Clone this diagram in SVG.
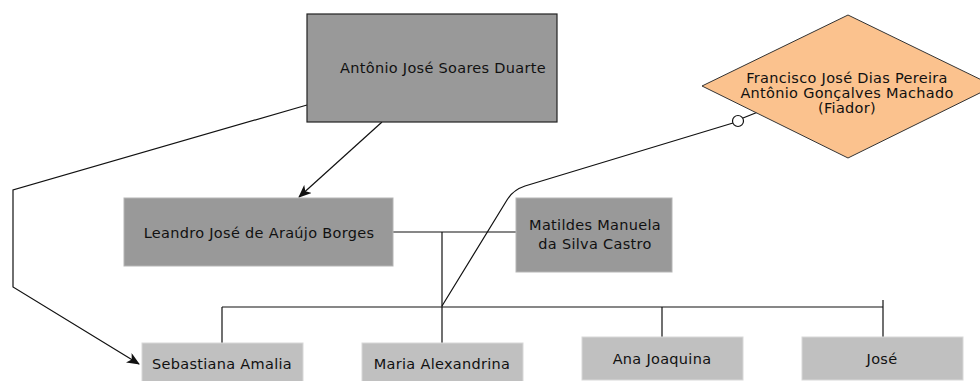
<svg xmlns="http://www.w3.org/2000/svg" width="980" height="381" viewBox="0 0 980 381">
<defs>
<style>
text{font-family:"DejaVu Sans","Liberation Sans",sans-serif;font-size:14.5px;letter-spacing:0.3px;fill:#111;text-anchor:middle;dominant-baseline:central}
.dark{fill:#999999;stroke:#222;stroke-width:1.2}
.mid{fill:#999999;stroke:#b5b5b5;stroke-width:1}
.light{fill:#c0c0c0;stroke:#d8d8d8;stroke-width:1}
.dia{fill:#fbc28e;stroke:#333;stroke-width:1}
.ln{fill:none;stroke:#111;stroke-width:1.2}
</style>
<marker id="arr" viewBox="0 0 13 11" refX="12" refY="5.5" markerWidth="13" markerHeight="11" markerUnits="userSpaceOnUse" orient="auto">
<path d="M0,0 L13,5.5 L0,11 L3.5,5.5 Z" fill="#111"/>
</marker>
</defs>
<rect width="980" height="381" fill="#fff"/>
<g id="connectors">
<path class="ln" d="M307,105 L13,190 L13,287 L139,364" marker-end="url(#arr)"/>
<path class="ln" d="M382,122 L299,197" marker-end="url(#arr)"/>
<path class="ln" d="M393,232 L516,232"/>
<path class="ln" d="M442,232 L442,343"/>
<path class="ln" d="M222,307 L883,307"/>
<path class="ln" d="M222,307 L222,343"/>
<path class="ln" d="M662,307 L662,337"/>
<path class="ln" d="M883,300 L883,337"/>
<path class="ln" d="M442,306 L507,200 Q513,190 525,186 L733,123"/>
<path class="ln" d="M743,118 L758,112"/>
<circle cx="738" cy="121" r="5.5" fill="#fff" stroke="#111" stroke-width="1.2"/>
</g>
<g id="antonio">
<rect class="dark" x="307" y="14" width="250" height="108"/>
<text x="443" y="68">Antônio José Soares Duarte</text>
</g>
<g id="fiador">
<polygon class="dia" points="848,15 994,86 848,158 702,86"/>
<text x="847" y="78">Francisco José Dias Pereira</text>
<text x="847" y="93">Antônio Gonçalves Machado</text>
<text x="847" y="108">(Fiador)</text>
</g>
<g id="leandro">
<rect class="mid" x="124" y="198" width="269" height="68"/>
<text x="259" y="233">Leandro José de Araújo Borges</text>
</g>
<g id="matildes">
<rect class="mid" x="516" y="198" width="156" height="74"/>
<text x="595" y="225">Matildes Manuela</text>
<text x="595" y="244">da Silva Castro</text>
</g>
<g id="sebastiana">
<rect class="light" x="142" y="343" width="161" height="42"/>
<text x="222" y="364">Sebastiana Amalia</text>
</g>
<g id="maria">
<rect class="light" x="362" y="343" width="161" height="42"/>
<text x="442" y="364">Maria Alexandrina</text>
</g>
<g id="ana">
<rect class="light" x="582" y="337" width="161" height="43"/>
<text x="662" y="359">Ana Joaquina</text>
</g>
<g id="jose">
<rect class="light" x="802" y="337" width="161" height="43"/>
<text x="882" y="359">José</text>
</g>
</svg>
